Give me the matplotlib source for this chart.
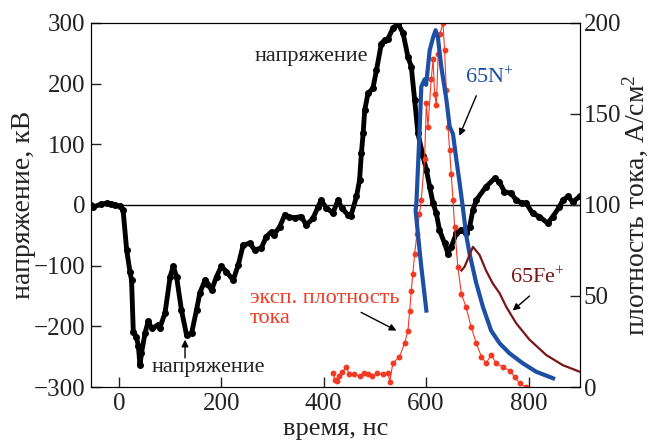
import numpy as np
import matplotlib.pyplot as plt

plt.rcParams['font.family'] = ['Liberation Serif', 'DejaVu Serif']
plt.rcParams['mathtext.fontset'] = 'custom'
plt.rcParams['mathtext.rm'] = 'Liberation Serif'
plt.rcParams['mathtext.it'] = 'Liberation Serif:italic'

# voltage, kV (left axis)
t_v = [-55, -50, -35, -24, -15, -8, 2, 8, 15, 21.5, 24.6, 28, 34, 38, 41, 44, 51, 57, 64, 77, 80,
       90, 100, 106, 112.5, 122, 132, 142, 151.5, 158, 168, 172, 181, 190.6, 200, 210, 223, 233,
       242.6, 255.6, 265, 278, 288, 298, 302, 314, 324, 332, 343, 356, 366, 379, 389, 395, 405,
       418, 428, 435, 447, 453, 464, 470, 473.5, 477, 480, 486.5, 496, 503, 512.6, 519, 525.6,
       535, 545, 555, 564.5, 571, 577.6, 584, 594, 600.5, 607, 613.5, 620, 626, 636, 642.6, 649,
       659, 668.7, 678, 685, 691.5, 698, 717, 734, 743, 753, 766, 776, 787, 795.6, 808, 821,
       837.6, 847.5, 860.5, 867, 877, 886.6, 900]
volt = [0, -3, 1, 3, 2, 0, -2, -8, -74, -110, -124, -209, -217, -233, -264, -244, -211, -192, -203,
        -198, -202, -178, -118, -101, -118, -173, -214, -211, -173, -145, -124, -130, -140, -118,
        -101, -110, -124, -99, -66, -63, -74, -71, -52, -44, -50, -36, -16, -20, -21, -19, -33,
        -22, -3, 8, -5, -13, 8, -5, -16, -18, 14, 41, 85, 118, 156, 184, 192, 222, 266, 272, 274,
        291, 299, 283, 244, 228, 173, 118, 80, 58, 30, 3, -14, -41, -63, -80, -69, -47, -41, -47,
        -36, -8, 8, 30, 44, 38, 22, 19, 8, 3, 3, -14, -19, -30, -19, -3, 8, 14, 5, 14]

# experimental current density, A/cm2 (right axis)
t_exp = [418, 422, 425, 430, 436, 444, 450, 460, 470, 478, 486, 495, 505, 515, 525.6, 529, 535,
         548, 558, 564.5, 568, 571, 574, 577.6, 582, 587, 590.6, 597, 600.5, 603.6, 610, 613.5,
         616.6, 620, 623.6, 627, 633, 636, 639.5, 642.6, 646, 649, 652.5, 655.6, 662, 669, 678,
         688, 698, 708, 717, 727, 737, 750, 763, 773, 782.6, 795]
j_exp = [7.5, 4, 3.5, 6, 8, 11, 7, 7, 6, 7.5, 7, 6, 7.5, 7, 7.5, 3, 13, 16.7, 24, 31, 42, 53, 62,
         73, 84, 95, 103, 125, 156, 143, 169, 180, 161, 155, 183, 194, 200, 185, 163, 143, 130,
         117, 103, 88, 66, 51, 44, 33, 24, 16.7, 13, 17.6, 13, 11, 9, 5.6, 2, 0]

# simulated 65N+
t_n = [600.5, 590.6, 584, 579.5, 581, 587, 590.6, 597, 600, 607, 613.6, 618.5, 623, 629.6, 639.5,
       646, 652.5, 659, 665.5, 672, 678, 685, 698, 711, 727, 743.6, 763, 789, 815, 848]
j_n = [42, 66, 84, 97, 101, 139, 165, 169, 166, 185, 192, 196, 192, 176, 158, 143, 139, 125, 112,
       98, 84, 73, 57, 44, 31, 24, 18.5, 13, 8.4, 4.8]

# simulated 65Fe+
t_fe = [669, 675, 678, 691.5, 704.5, 717, 730, 743.6, 756.6, 776, 802, 834.6, 867, 900]
j_fe = [64, 66, 68, 77, 72.5, 64, 57, 51.5, 44, 35, 26, 17.6, 12, 8.4]

fig = plt.figure(figsize=(6.58, 4.41), dpi=100)
ax = fig.add_axes([0.138, 0.1224, 0.743, 0.8256])
ax2 = ax.twinx()

ax.axhline(0, color='k', lw=1)
ax.plot(t_v, volt, color='k', lw=3.5, marker='o', ms=4, zorder=3)

ax2.plot(t_exp, j_exp, color='#f03a24', lw=0.8, marker='o', ms=3.2, zorder=2)
ax2.plot(t_n, j_n, color='#1d4fa5', lw=3, zorder=3)
ax2.plot(t_fe, j_fe, color='#7a1616', lw=1.6, zorder=3)

ax.set_xlim(-55, 900)
ax.set_ylim(-300, 300)
ax2.set_ylim(0, 200)
ax.set_xticks([0, 200, 400, 600, 800])
ax.set_yticks([-300, -200, -100, 0, 100, 200, 300])
ax2.set_yticks([0, 50, 100, 150, 200])

for a in (ax, ax2):
    a.tick_params(direction='in', length=7, labelsize=18, width=1, colors='#222222')
ax.tick_params(axis='x', pad=4)
ax.tick_params(axis='y', pad=4)
ax2.tick_params(axis='y', pad=3)

ax.set_xlabel('время, нс', fontsize=19, color='#222222')
ax.set_ylabel('напряжение, кВ', fontsize=20, color='#222222')
ax2.set_ylabel('плотность тока, А/см$^2$', fontsize=20, color='#222222')
ax.xaxis.set_label_coords(0.5, -0.084)
ax.yaxis.set_label_coords(-0.112, 0.5)
ax2.yaxis.set_label_coords(1.084, 0.5)

arrow = dict(arrowstyle='-|>', color='k', lw=1, shrinkA=0, shrinkB=0)

ax.text(486, 244, 'напряжение', fontsize=16, ha='right', va='center', color='#222222')
ax.text(174, -268, 'напряжение', fontsize=16, ha='center', va='center', color='#222222')
ax.annotate('', xy=(129, -222), xytext=(129, -252), arrowprops=arrow)

ax2.text(255, 43, 'эксп. плотность\nтока', fontsize=16, color='#f03a24', ha='left', va='center',
         linespacing=1.05)
ax2.annotate('', xy=(542, 31), xytext=(473, 41), arrowprops=arrow)

ax2.text(724, 170, '65N$^{+}$', fontsize=16, color='#1d4fa5', ha='center', va='center')
ax2.annotate('', xy=(665, 138), xytext=(698, 160), arrowprops=arrow)

ax2.text(818, 60, '65Fe$^{+}$', fontsize=16, color='#7a1616', ha='center', va='center')
ax2.annotate('', xy=(769, 42), xytext=(802, 50), arrowprops=arrow)

fig.savefig('out.png', dpi=100)
